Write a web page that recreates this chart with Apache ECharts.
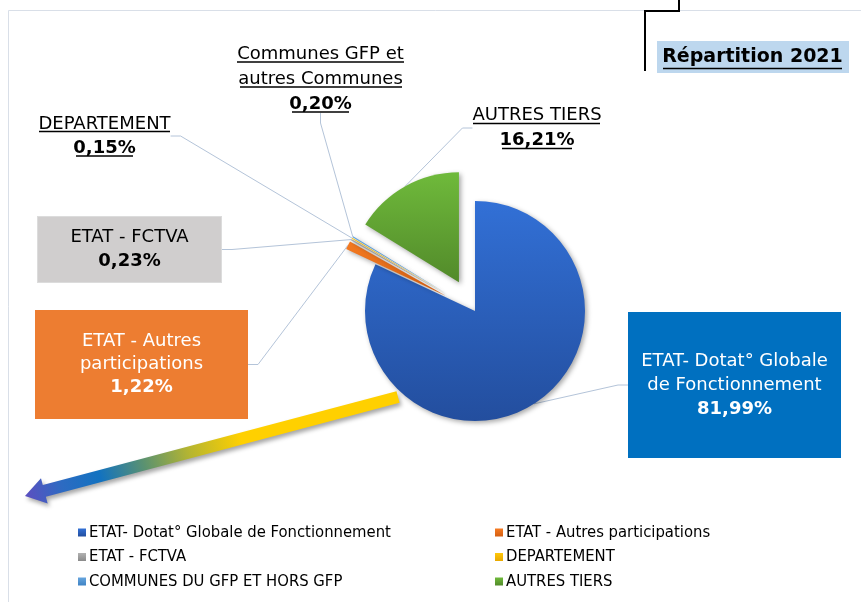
<!DOCTYPE html>
<html>
<head>
<meta charset="utf-8">
<script src="https://cdn.jsdelivr.net/npm/echarts@6/dist/echarts.min.js"></script>
<style>
html, body { margin: 0; padding: 0; background: #fff; }
#main { width: 861px; height: 602px; }
</style>
</head>
<body>
<div id="main"></div>
<script>
// donnees
var categories = ['ETAT- Dotat° Globale de Fonctionnement', 'ETAT - Autres participations', 'ETAT - FCTVA',
	'DEPARTEMENT', 'COMMUNES DU GFP ET HORS GFP', 'AUTRES TIERS'];
var labelNames = ['ETAT- Dotat° Globale\nde Fonctionnement', 'ETAT - Autres\nparticipations', 'ETAT - FCTVA',
	'DEPARTEMENT', 'Communes GFP et\nautres Communes', 'AUTRES TIERS'];
var values = [81.99, 1.22, 0.23, 0.15, 0.20, 16.21];
var exploded = [false, true, true, true, true, true];

// styles
var sliceColors = [['#3270D6', '#234E9E'], ['#F67B22', '#D45F12'], ['#B2B2B2', '#8A8A8A'],
	['#FFC80A', '#E8A800'], ['#66A5DE', '#3F83C4'], ['#6FBA3B', '#528A2A']];
var boxes = [
	{x: 734.5, y: 385, w: 213, pad: [37, 0, 37, 0], bg: '#0070C0', color: '#fff', lh: 24},
	{x: 141.5, y: 364.5, w: 213, pad: [20, 0, 20, 0], bg: '#ED7D31', color: '#fff', lh: 23},
	{x: 129.5, y: 249.5, w: 183, pad: [8, 0, 9, 0], bg: '#D0CECE', border: '#DCDCDC', color: '#000', lh: 24},
	{x: 104.5, y: 136, color: '#000', lh: 24},
	{x: 320.5, y: 79, color: '#000', lh: 25},
	{x: 537, y: 128, color: '#000', lh: 25}
];
var underlines = [[237, 62, 404], [240, 87, 402], [292, 112, 349], [39, 131.5, 170], [76, 156, 133],
	[473, 123.5, 600], [502, 148.5, 572], [663, 68.5, 842]];
var FONT = 'DejaVu Sans';
var CX = 475, CY = 311, R = 110, OFFSET = 33;

function pct(v) {
	return v.toFixed(2).replace('.', ',') + '%';
}
function grad(i) {
	return new echarts.graphic.LinearGradient(0, 0, 0, 1, [
		{offset: 0, color: sliceColors[i][0]}, {offset: 1, color: sliceColors[i][1]}]);
}
function makeLabel(i) {
	var b = boxes[i];
	var lbl = {
		show: true,
		position: 'outside',
		color: b.color,
		formatter: function(p) {
			var parts = labelNames[p.dataIndex].split('\n');
			return '{n|' + parts.join('}\n{n|') + '}\n{b|' + pct(values[p.dataIndex]) + '}';
		},
		rich: {
			n: {fontFamily: FONT, fontSize: 18, lineHeight: b.lh, color: b.color, align: 'center'},
			b: {fontFamily: FONT, fontSize: 18, lineHeight: b.lh, color: b.color, fontWeight: 'bold', align: 'center'}
		}
	};
	if (b.bg) {
		lbl.backgroundColor = b.bg;
		lbl.width = b.w;
		lbl.padding = b.pad;
		if (b.border) { lbl.borderColor = b.border; lbl.borderWidth = 1; }
	}
	return lbl;
}

// une serie par part, pour pouvoir decaler les parts eclatees
var total = 0;
for (var i = 0; i < values.length; i++) total += values[i];
var series = [];
var acc = 0;
for (var s = 0; s < values.length; s++) {
	var mid = (acc + values[s] / 2) / total * 2 * Math.PI;
	acc += values[s];
	var off = exploded[s] ? OFFSET : 0;
	var data = [];
	for (var k = 0; k < values.length; k++) {
		if (k === s) {
			data.push({name: categories[k], value: values[k],
				itemStyle: {color: grad(k), shadowBlur: 5, shadowColor: 'rgba(0,0,0,0.35)', shadowOffsetX: 2, shadowOffsetY: 2},
				label: makeLabel(k), labelLine: {show: true}});
		} else {
			data.push({name: categories[k], value: values[k],
				itemStyle: {color: 'rgba(0,0,0,0)'}, label: {show: false}, labelLine: {show: false}});
		}
	}
	series.push({
		type: 'pie',
		name: categories[s],
		z: 2,
		center: [CX + off * Math.sin(mid), CY - off * Math.cos(mid)],
		radius: R,
		startAngle: 90,
		clockwise: true,
		avoidLabelOverlap: false,
		labelLine: {length: 10, length2: 10, lineStyle: {color: '#B4C4D9', width: 1}},
		labelLayout: function(p) {
			var b = boxes[p.dataIndex];
			return {x: b.x, y: b.y, align: 'center', verticalAlign: 'middle'};
		},
		emphasis: {disabled: true},
		data: data
	});
}

var graphics = [];
// cadre
graphics.push({type: 'rect', z: 0, shape: {x: 8.5, y: 10.5, width: 870, height: 610},
	style: {fill: 'none', stroke: '#D9DFE8', lineWidth: 1}});
graphics.push({type: 'polyline', z: 0, shape: {points: [[645, 71], [645, 11], [679, 11], [679, 0]]},
	style: {fill: 'none', stroke: '#000', lineWidth: 2}});
// fleche
var S = [398, 397], T = [25, 496];
var dx = T[0] - S[0], dy = T[1] - S[1], L = Math.sqrt(dx * dx + dy * dy);
var ux = dx / L, uy = dy / L, nx = -uy, ny = ux;
var H = [T[0] - ux * 20, T[1] - uy * 20];
function pt(p, k) { return [p[0] + nx * k, p[1] + ny * k]; }
graphics.push({type: 'polygon', z: 0,
	shape: {points: [pt(S, 6), pt(H, 6), pt(H, 13), T, pt(H, -13), pt(H, -6), pt(S, -6)]},
	style: {
		fill: new echarts.graphic.LinearGradient(S[0], S[1], T[0], T[1], [
			{offset: 0, color: '#FFD000'}, {offset: 0.42, color: '#FFD000'}, {offset: 0.56, color: '#B5B531'},
			{offset: 0.68, color: '#5B9270'}, {offset: 0.8, color: '#1272C0'}, {offset: 0.9, color: '#2D6BC2'},
			{offset: 1, color: '#5C4FC0'}], true),
		shadowBlur: 4, shadowColor: 'rgba(0,0,0,0.35)', shadowOffsetX: 2, shadowOffsetY: 3
	}});
// titre
graphics.push({type: 'rect', z: 5, shape: {x: 657, y: 41, width: 192, height: 32}, style: {fill: '#BDD7EE'}});
graphics.push({type: 'text', z: 6, x: 752.5, y: 57,
	style: {text: 'Répartition 2021', fontFamily: FONT, fontSize: 19, fontWeight: 'bold', fill: '#000',
		align: 'center', verticalAlign: 'middle'}});
// soulignement
for (var j = 0; j < underlines.length; j++) {
	var u = underlines[j];
	graphics.push({type: 'line', z: 6, shape: {x1: u[0], y1: u[1], x2: u[2], y2: u[1]},
		style: {stroke: '#000', lineWidth: 1.3}});
}

function legendItem(i) {
	return {name: categories[i], itemStyle: {color: grad(i)}};
}
var legendBase = {
	orient: 'vertical', top: 524, padding: 0, itemWidth: 8, itemHeight: 8, itemGap: 7.5,
	icon: 'rect', selectedMode: false,
	textStyle: {fontFamily: 'DejaVu Sans Condensed', fontSize: 16.5, lineHeight: 16, color: '#000', padding: [0, 0, 0, -2]}
};

var myChart = echarts.init(document.getElementById('main'));
var option = {
	animation: false,
	backgroundColor: '#fff',
	legend: [
		Object.assign({}, legendBase, {left: 78, data: [legendItem(0), legendItem(2), legendItem(4)]}),
		Object.assign({}, legendBase, {left: 495, data: [legendItem(1), legendItem(3), legendItem(5)]})
	],
	graphic: graphics,
	series: series
};
myChart.setOption(option);
</script>
</body>
</html>
